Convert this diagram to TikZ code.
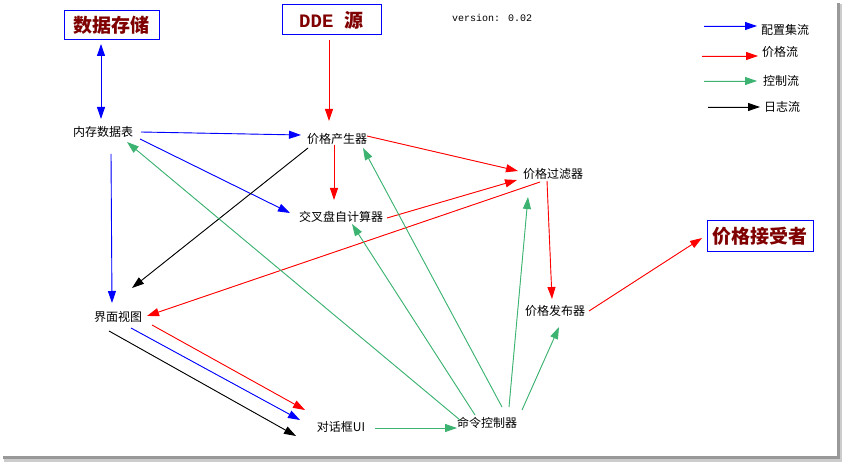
\documentclass[tikz,border=0pt]{standalone}
\usepackage{fontspec}
\usetikzlibrary{arrows.meta,calc}
\newfontfamily\cjk{Noto Sans CJK SC}
\newfontfamily\monofont{Liberation Mono}
\definecolor{mgreen}{RGB}{60,179,113}
\definecolor{dred}{RGB}{128,0,0}
\definecolor{pblue}{RGB}{0,0,255}
\definecolor{pred}{RGB}{255,0,0}
\tikzset{
  lbl/.style={font=\cjk\fontsize{12}{13}\selectfont, inner sep=1pt},
  ttl/.style={draw=pblue, line width=1pt, text=dred, inner sep=0pt,
    font=\cjk\bfseries\fontsize{19}{20}\selectfont},
  arr/.style={-{Triangle[length=12pt,width=8pt]}, line width=0.9pt},
  cfg/.style={arr, draw=pblue, fill=pblue},
  prc/.style={arr, draw=pred, fill=pred},
  ctl/.style={arr, draw=mgreen, fill=mgreen},
  lg/.style={arr, draw=black, fill=black},
}
\begin{document}
\begin{tikzpicture}[x=1pt,y=-1pt]
\useasboundingbox (0,0) rectangle (842,462);
\fill[white] (0,0) rectangle (842,462);
% shadow
\fill[gray!80] (837,3) rectangle (839.5,457);
\fill[gray!40] (839.5,4) rectangle (842,462);
\fill[gray!80] (3,456) rectangle (839.5,458.5);
\fill[gray!40] (4,458.5) rectangle (842,462);

% title boxes
\node[ttl, minimum width=95pt, minimum height=29pt] (ds) at (111.5,25.5) {数据存储};
\node[ttl, minimum width=99pt, minimum height=30pt] (dde) at (331.5,20) {{\monofont\bfseries DDE }源};
\node[ttl, minimum width=106pt, minimum height=31pt] (js) at (760,236) {价格接受者};

\node[font=\monofont\fontsize{10}{11}\selectfont, inner sep=0pt] (ver) at (492,18) {version: 0.02};

% components
\node[lbl] (ncb) at (103,132) {内存数据表};
\node[lbl] (jgcs) at (337,139) {价格产生器};
\node[lbl] (jcp) at (341,217) {交叉盘自计算器};
\node[lbl] (gl) at (553,174) {价格过滤器};
\node[lbl] (fb) at (555,311) {价格发布器};
\node[lbl] (jm) at (118,317) {界面视图};
\node[lbl] (dh) at (341,427) {对话框UI};
\node[lbl] (ml) at (487,423) {命令控制器};

% legend
\node[lbl, anchor=west] (lg1) at (760,30) {配置集流};
\node[lbl, anchor=west] (lg2) at (761,52) {价格流};
\node[lbl, anchor=west] (lg3) at (762,81) {控制流};
\node[lbl, anchor=west] (lg4) at (763,107) {日志流};
\coordinate (lg1s) at (704,26);
\coordinate (lg2s) at (702,56);
\coordinate (lg3s) at (704,81);
\coordinate (lg4s) at (708,107);
\draw[cfg] (lg1s) -- ($(lg1.west)+(-3,-4)$);
\draw[prc] (lg2s) -- ($(lg2.west)+(-3,4)$);
\draw[ctl] (lg3s) -- ($(lg3.west)+(-5,0)$);
\draw[lg] (lg4s) -- ($(lg4.west)+(-3,0)$);

% blue
\draw[cfg, {Triangle[length=12pt,width=8pt]}-{Triangle[length=12pt,width=8pt]}] ($(ds)+(-10.5,18.5)$) -- ($(ncb)+(-2,-13)$);
\draw[cfg] ($(ncb)+(38,0)$) -- ($(jgcs)+(-36,-4)$);
\draw[cfg] ($(ncb)+(37,7)$) -- ($(jcp)+(-51,-4)$);
\draw[cfg] ($(ncb)+(8,22)$) -- ($(jm)+(-6,-14)$);
\draw[cfg] ($(jm)+(13,11)$) -- ($(dh)+(-41,-7)$);

% red
\draw[prc] ($(dde)+(-2.5,20)$) -- ($(jgcs)+(-8,-18)$);
\draw[prc] ($(jgcs)+(-3,6)$) -- ($(jcp)+(-7,-17)$);
\draw[prc] ($(jgcs)+(30,-3)$) -- ($(gl)+(-35,-3)$);
\draw[prc] ($(jcp)+(46,1)$) -- ($(gl)+(-36,6)$);
\draw[prc] ($(gl)+(-13,8)$) -- ($(jm)+(29,-1)$);
\draw[prc] ($(gl)+(-6,7)$) -- ($(fb)+(-3,-12)$);
\draw[prc] ($(fb)+(34,0)$) -- ($(js)+(-58,2)$);
\draw[prc] ($(jm)+(34,8)$) -- ($(dh)+(-36,-17)$);

% black
\draw[lg] ($(jgcs)+(-29,9)$) -- ($(jm)+(14,-29)$);
\draw[lg] ($(jm)+(-9,14)$) -- ($(dh)+(-45,9)$);

% green
\draw[ctl] ($(ml)+(-27,-3)$) -- ($(ncb)+(24,10)$);
\draw[ctl] ($(ml)+(15,-16)$) -- ($(jgcs)+(26,9)$);
\draw[ctl] ($(ml)+(-12,-8)$) -- ($(jcp)+(11,7)$);
\draw[ctl] ($(ml)+(22,-16)$) -- ($(gl)+(-25,23)$);
\draw[ctl] ($(ml)+(35,-13)$) -- ($(fb)+(4,16)$);
\draw[ctl] ($(dh)+(34,1)$) -- ($(ml)+(-30,5)$);
\end{tikzpicture}
\end{document}
